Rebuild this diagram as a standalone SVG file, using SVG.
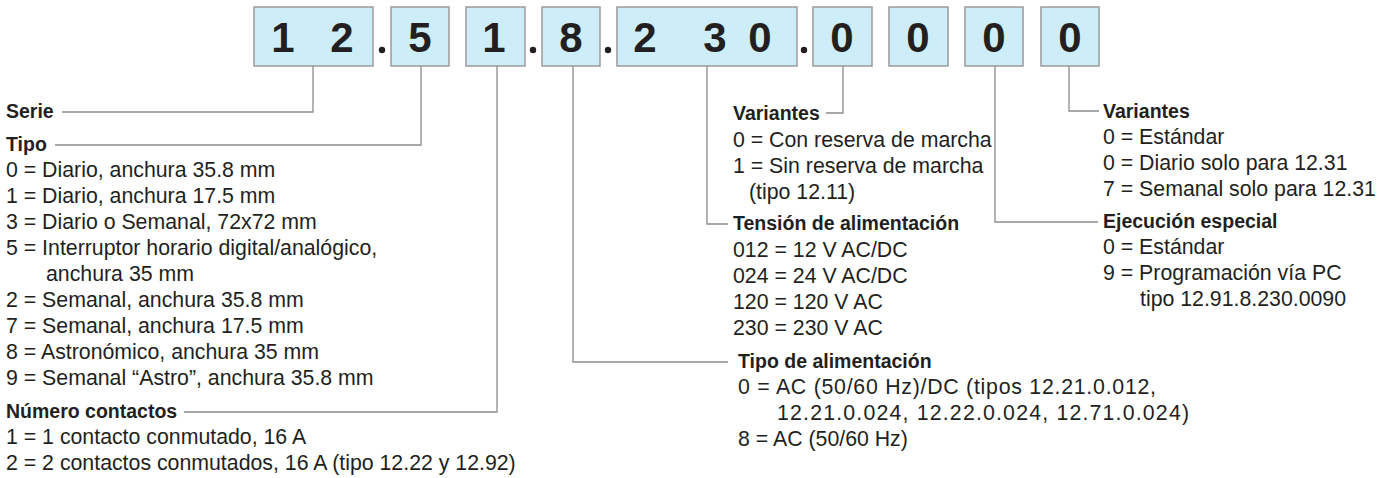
<svg xmlns="http://www.w3.org/2000/svg" width="1397" height="478" viewBox="0 0 1397 478">
<style>
.box{fill:#cdeef9;stroke:#9a9a9a;stroke-width:1.5}
.dg{font-family:"Liberation Sans",Arial,sans-serif;font-weight:bold;font-size:42px;fill:#231f20;text-anchor:middle}
.dot{fill:#231f20}
.h{font-family:"Liberation Sans",Arial,sans-serif;font-weight:bold;font-size:19.5px;fill:#231f20}
.t{font-family:"Liberation Sans",Arial,sans-serif;font-size:21.3px;fill:#231f20}
.c{fill:none;stroke:#8c8c8c;stroke-width:1.3}
</style>
<rect width="1397" height="478" fill="#fff"/>
<g id="code">
<g id="box-12"><rect class="box" x="254" y="7" width="119" height="59"/><text class="dg" x="283" y="52">1</text><text class="dg" x="342" y="52">2</text></g>
<g id="box-5"><rect class="box" x="391" y="7" width="58" height="59"/><text class="dg" x="420" y="52">5</text></g>
<g id="box-1"><rect class="box" x="466" y="7" width="59" height="59"/><text class="dg" x="494" y="52">1</text></g>
<g id="box-8"><rect class="box" x="542" y="7" width="58" height="59"/><text class="dg" x="571" y="52">8</text></g>
<g id="box-230"><rect class="box" x="617" y="7" width="180" height="59"/><text class="dg" x="645" y="52">2</text><text class="dg" x="715" y="52">3</text><text class="dg" x="760" y="52">0</text></g>
<g id="box-0a"><rect class="box" x="813" y="7" width="59" height="59"/><text class="dg" x="842" y="52">0</text></g>
<g id="box-0b"><rect class="box" x="889" y="7" width="59" height="59"/><text class="dg" x="918" y="52">0</text></g>
<g id="box-0c"><rect class="box" x="965" y="7" width="58" height="59"/><text class="dg" x="994" y="52">0</text></g>
<g id="box-0d"><rect class="box" x="1041" y="7" width="58" height="59"/><text class="dg" x="1070" y="52">0</text></g>
<circle class="dot" cx="382" cy="50" r="3.2"/>
<circle class="dot" cx="533" cy="50" r="3.2"/>
<circle class="dot" cx="608" cy="50" r="3.2"/>
<circle class="dot" cx="804" cy="50" r="3.2"/>
</g>
<g id="connectors">
<polyline class="c" points="313,66 313,112 62,112"/>
<polyline class="c" points="421,66 421,145 55,145"/>
<polyline class="c" points="497,66 497,412 184,412"/>
<polyline class="c" points="573,66 573,362 728,362"/>
<polyline class="c" points="707,66 707,224 728,224"/>
<polyline class="c" points="843,66 843,113 826,113"/>
<polyline class="c" points="995,66 995,222 1098,222"/>
<polyline class="c" points="1069,66 1069,111 1099,111"/>
</g>
<g id="serie"><text class="h" x="6" y="118">Serie</text></g>
<g id="tipo">
<text class="h" x="6" y="151">Tipo</text>
<text class="t" x="6" y="177">0 = Diario, anchura 35.8 mm</text>
<text class="t" x="6" y="203">1 = Diario, anchura 17.5 mm</text>
<text class="t" x="6" y="229">3 = Diario o Semanal, 72x72 mm</text>
<text class="t" x="6" y="255">5 = Interruptor horario digital/analógico,</text>
<text class="t" x="46" y="281">anchura 35 mm</text>
<text class="t" x="6" y="307">2 = Semanal, anchura 35.8 mm</text>
<text class="t" x="6" y="333">7 = Semanal, anchura 17.5 mm</text>
<text class="t" x="6" y="359">8 = Astronómico, anchura 35 mm</text>
<text class="t" x="6" y="385">9 = Semanal “Astro”, anchura 35.8 mm</text>
</g>
<g id="contactos">
<text class="h" x="6" y="418">Número contactos</text>
<text class="t" x="6" y="444">1 = 1 contacto conmutado, 16 A</text>
<text class="t" x="6" y="470">2 = 2 contactos conmutados, 16 A (tipo 12.22 y 12.92)</text>
</g>
<g id="variantes-1">
<text class="h" x="733" y="120">Variantes</text>
<text class="t" x="733" y="147">0 = Con reserva de marcha</text>
<text class="t" x="733" y="173">1 = Sin reserva de marcha</text>
<text class="t" x="749" y="199">(tipo 12.11)</text>
</g>
<g id="tension">
<text class="h" x="733" y="230">Tensión de alimentación</text>
<text class="t" x="733" y="257">012 = 12 V AC/DC</text>
<text class="t" x="733" y="283">024 = 24 V AC/DC</text>
<text class="t" x="733" y="309">120 = 120 V AC</text>
<text class="t" x="733" y="335">230 = 230 V AC</text>
</g>
<g id="alimentacion">
<text class="h" x="738" y="368">Tipo de alimentación</text>
<text class="t" x="738" y="394" textLength="418" lengthAdjust="spacing">0 = AC (50/60 Hz)/DC (tipos 12.21.0.012,</text>
<text class="t" x="777" y="420" textLength="412" lengthAdjust="spacing">12.21.0.024, 12.22.0.024, 12.71.0.024)</text>
<text class="t" x="738" y="446">8 = AC (50/60 Hz)</text>
</g>
<g id="variantes-2">
<text class="h" x="1103" y="118">Variantes</text>
<text class="t" x="1103" y="144">0 = Estándar</text>
<text class="t" x="1103" y="170">0 = Diario solo para 12.31</text>
<text class="t" x="1103" y="196">7 = Semanal solo para 12.31</text>
</g>
<g id="ejecucion">
<text class="h" x="1103" y="228">Ejecución especial</text>
<text class="t" x="1103" y="254">0 = Estándar</text>
<text class="t" x="1103" y="280">9 = Programación vía PC</text>
<text class="t" x="1140" y="306">tipo 12.91.8.230.0090</text>
</g>
</svg>
